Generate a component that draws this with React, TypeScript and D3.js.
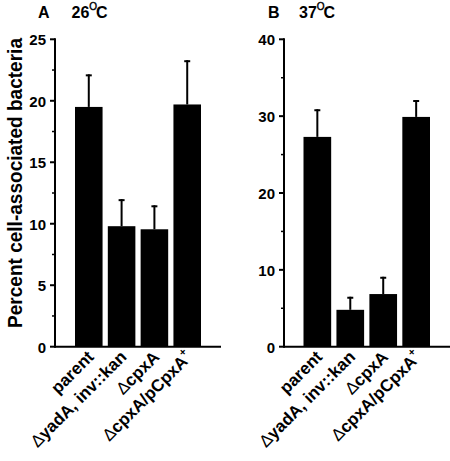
import React from "react";
import * as d3 from "d3";

const categories = ["parent", "ΔyadA, inv::kan", "ΔcpxA", "ΔcpxA/pCpxA+"];
const means26 = [19.5, 9.8, 9.55, 19.7];
const sem26 = [2.65, 2.2, 1.95, 3.6];
const means37 = [27.3, 4.8, 6.85, 29.9];
const sem37 = [3.6, 1.7, 2.25, 2.2];
const ticks26 = [0, 5, 10, 15, 20, 25];
const ticks37 = [0, 10, 20, 30, 40];

const FONT = "'Liberation Sans', Arial, Helvetica, sans-serif";

type PanelProps = {
  letter: string;
  temp: string;
  means: number[];
  sems: number[];
  ticks: number[];
  minorStep: number;
  axisX: number;
  barStart: number;
  barEnd: number;
  baseEnd: number;
  titleX: number;
  tempX: number;
};

function Label({ text, x, y }: { text: string; x: number; y: number }) {
  let rest = text;
  let delta = false;
  let sup = false;
  if (rest.startsWith("Δ")) {
    delta = true;
    rest = rest.slice(1);
  }
  if (rest.endsWith("+")) {
    sup = true;
    rest = rest.slice(0, -1);
  }
  return (
    <g transform={`translate(${x},${y}) rotate(-45)`}>
      <text x={0} y={0} textAnchor="end" fontFamily={FONT} fontWeight="bold" fontSize={17} fill="#000">
        {delta && <tspan fontWeight="normal">Δ</tspan>}
        <tspan>{rest}</tspan>
        {sup && (
          <tspan fontSize={11} dy={-8}>
            +
          </tspan>
        )}
      </text>
    </g>
  );
}

function Panel(p: PanelProps) {
  const yMax = p.ticks[p.ticks.length - 1];
  const y = d3.scaleLinear().domain([0, yMax]).range([346.7, 39.3]);
  const x = d3
    .scaleBand<string>()
    .domain(categories)
    .range([p.barStart, p.barEnd])
    .paddingInner(0.16)
    .paddingOuter(0);
  const minor = d3.range(0, yMax + 1e-9, p.minorStep).filter((v) => !p.ticks.includes(v));
  return (
    <g>
      <text x={p.titleX} y={17.5} fontFamily={FONT} fontWeight="bold" fontSize={16}>
        {p.letter}
      </text>
      <text x={p.tempX} y={17.5} fontFamily={FONT} fontWeight="bold" fontSize={16}>
        {p.temp}
        <tspan fontSize={10} fontWeight="normal" dy={-8} stroke="#000" strokeWidth={0.4}>
          O
        </tspan>
        <tspan dx={-1} dy={8}>C</tspan>
      </text>
      {categories.map((c, i) => {
        const x0 = x(c)!;
        const cx = x0 + x.bandwidth() / 2;
        const top = y(p.means[i] + p.sems[i]);
        return (
          <g key={c}>
            <rect x={x0} y={y(p.means[i])} width={x.bandwidth()} height={y(0) - y(p.means[i])} fill="#000" />
            <line x1={cx} x2={cx} y1={y(p.means[i])} y2={top} stroke="#000" strokeWidth={2} />
            <line x1={cx - 3} x2={cx + 3} y1={top + 1} y2={top + 1} stroke="#000" strokeWidth={2} />
            <Label text={c} x={cx + 6} y={358} />
          </g>
        );
      })}
      <line x1={p.axisX} x2={p.axisX} y1={38.3} y2={347.7} stroke="#000" strokeWidth={2} />
      <line x1={p.axisX} x2={p.baseEnd} y1={346.7} y2={346.7} stroke="#000" strokeWidth={2} />
      {p.ticks.map((t) => (
        <g key={t}>
          <line x1={p.axisX - 5} x2={p.axisX} y1={y(t)} y2={y(t)} stroke="#000" strokeWidth={2} />
          <text x={p.axisX - 9} y={y(t)} dy="0.4em" textAnchor="end" fontFamily={FONT} fontWeight="bold" fontSize={15}>
            {t}
          </text>
        </g>
      ))}
      {minor.map((t) => (
        <line key={"m" + t} x1={p.axisX - 3} x2={p.axisX} y1={y(t)} y2={y(t)} stroke="#000" strokeWidth={1.5} />
      ))}
    </g>
  );
}

export default function App() {
  return (
    <svg width={450} height={461} style={{ position: "absolute", left: 0, top: 0, background: "#fff" }}>
      <rect width={450} height={461} fill="#fff" />
      <g transform="translate(21.5,183) rotate(-90)">
        <text
          x={0}
          y={0}
          textAnchor="middle"
          fontFamily={FONT}
          fontWeight="bold"
          fontSize={21}
          textLength={290}
          lengthAdjust="spacingAndGlyphs"
        >
          Percent cell-associated bacteria
        </text>
      </g>
      <Panel
        letter="A"
        temp="26"
        means={means26}
        sems={sem26}
        ticks={ticks26}
        minorStep={2.5}
        axisX={55}
        barStart={75}
        barEnd={201}
        baseEnd={221}
        titleX={38}
        tempX={71.5}
      />
      <Panel
        letter="B"
        temp="37"
        means={means37}
        sems={sem37}
        ticks={ticks37}
        minorStep={5}
        axisX={284}
        barStart={303.5}
        barEnd={430}
        baseEnd={450}
        titleX={268}
        tempX={299}
      />
    </svg>
  );
}
